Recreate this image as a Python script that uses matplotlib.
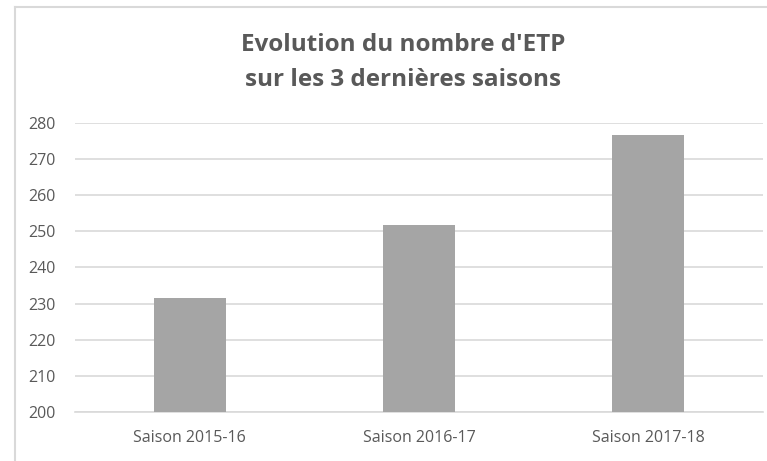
import matplotlib
matplotlib.use("Agg")
import matplotlib.pyplot as plt
from matplotlib.lines import Line2D

categories = ["Saison 2015-16", "Saison 2016-17", "Saison 2017-18"]
values = [231.5, 251.8, 276.7]
yticks = [200, 210, 220, 230, 240, 250, 260, 270, 280]

plt.rcParams['font.family'] = ['Open Sans', 'DejaVu Sans']

W, H = 767, 461
fig = plt.figure(figsize=(W / 100, H / 100), dpi=100)
fig.patch.set_facecolor('white')

ax = fig.add_axes([75 / W, 1 - 412 / H, (763 - 75) / W, (412 - 123) / H])
x = list(range(len(categories)))
ax.bar(x, values, width=0.315, color='#a5a5a5', zorder=3)
ax.set_xlim(-0.5, len(categories) - 0.5)
ax.set_ylim(200, 280)
ax.set_yticks(yticks)
ax.set_yticklabels([str(t) for t in yticks])
ax.set_xticks(x)
ax.set_xticklabels(categories)
ax.yaxis.grid(True, color='#d9d9d9', linewidth=1.2, zorder=0)
for s in ['top', 'right', 'left']:
    ax.spines[s].set_visible(False)
ax.spines['bottom'].set_color('#d9d9d9')
ax.spines['bottom'].set_linewidth(1.2)
ax.tick_params(axis='both', length=0, colors='#595959', labelsize=11.5)
ax.tick_params(axis='y', pad=14)
ax.tick_params(axis='x', pad=13)

fig.text(403 / W, 1 - 45 / H, "Evolution du nombre d'ETP", ha='center', va='center',
         fontsize=17.5, fontweight='bold', color='#595959')
fig.text(403 / W, 1 - 80 / H, "sur les 3 dernières saisons", ha='center', va='center',
         fontsize=17.5, fontweight='bold', color='#595959')

# chart area border (left and top visible)
fig.add_artist(Line2D([15 / W, 15 / W], [0, 1 - 7 / H], transform=fig.transFigure,
                      color='#d9d9d9', linewidth=1.5))
fig.add_artist(Line2D([15 / W, 1], [1 - 7 / H, 1 - 7 / H], transform=fig.transFigure,
                      color='#d9d9d9', linewidth=1.5))

fig.savefig("out.png", dpi=100)
